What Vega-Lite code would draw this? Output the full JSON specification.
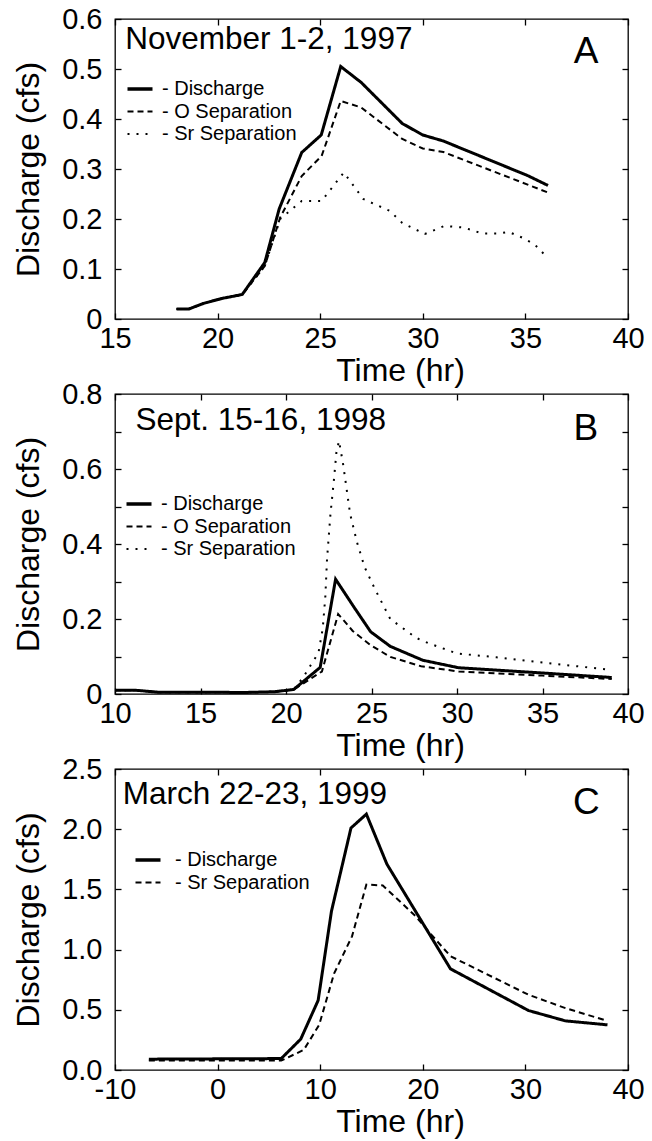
{
  "$schema": "https://vega.github.io/schema/vega-lite/v6.json",
  "padding": {"left": 12, "top": 4, "right": 2, "bottom": 2},
  "autosize": {"type": "pad"},
  "bounds": "flush",
  "spacing": 75,
  "config": {
    "font": "Liberation Sans",
    "view": {"stroke": "black", "strokeWidth": 1.3},
    "axis": {"grid": false, "domain": false, "tickColor": "black", "tickSize": -6, "tickWidth": 1.3, "labelFontSize": 29, "labelColor": "black", "labelFlush": false, "labelOverlap": false, "titleFontSize": 32, "titleFontWeight": "normal", "titleColor": "black"},
    "axisY": {"labelPadding": 19, "titlePadding": 16},
    "axisX": {"labelPadding": 11, "titlePadding": 2, "titleX": 285},
    "legend": {"orient": "none", "title": null, "labelFontSize": 20, "labelColor": "black", "symbolType": "stroke", "symbolSize": 625, "symbolStrokeColor": "black", "symbolStrokeWidth": 2, "labelOffset": 12, "rowPadding": 2.5, "padding": 0},
    "text": {"color": "black"},
    "line": {"color": "black"}
  },
  "resolve": {"scale": {"x": "independent", "y": "independent", "strokeDash": "independent"}, "legend": {"strokeDash": "independent"}},
  "vconcat": [
    {
      "width": 513, "height": 300,
      "data": {"values": [
        {"t": 18.0, "q": 0.02, "series": "Discharge"},
        {"t": 18.6, "q": 0.02, "series": "Discharge"},
        {"t": 19.3, "q": 0.031, "series": "Discharge"},
        {"t": 20.2, "q": 0.041, "series": "Discharge"},
        {"t": 21.2, "q": 0.049, "series": "Discharge"},
        {"t": 22.3, "q": 0.113, "series": "Discharge"},
        {"t": 23.0, "q": 0.22, "series": "Discharge"},
        {"t": 24.1, "q": 0.333, "series": "Discharge"},
        {"t": 25.05, "q": 0.368, "series": "Discharge"},
        {"t": 26.0, "q": 0.505, "series": "Discharge"},
        {"t": 27.0, "q": 0.473, "series": "Discharge"},
        {"t": 29.0, "q": 0.391, "series": "Discharge"},
        {"t": 30.0, "q": 0.368, "series": "Discharge"},
        {"t": 31.0, "q": 0.356, "series": "Discharge"},
        {"t": 35.1, "q": 0.287, "series": "Discharge"},
        {"t": 36.1, "q": 0.267, "series": "Discharge"},
        {"t": 18.0, "q": 0.02, "series": "O Separation"},
        {"t": 18.6, "q": 0.02, "series": "O Separation"},
        {"t": 19.3, "q": 0.031, "series": "O Separation"},
        {"t": 20.2, "q": 0.041, "series": "O Separation"},
        {"t": 21.2, "q": 0.049, "series": "O Separation"},
        {"t": 22.3, "q": 0.106, "series": "O Separation"},
        {"t": 23.05, "q": 0.203, "series": "O Separation"},
        {"t": 24.1, "q": 0.286, "series": "O Separation"},
        {"t": 25.07, "q": 0.326, "series": "O Separation"},
        {"t": 26.0, "q": 0.436, "series": "O Separation"},
        {"t": 27.0, "q": 0.423, "series": "O Separation"},
        {"t": 29.0, "q": 0.36, "series": "O Separation"},
        {"t": 30.0, "q": 0.341, "series": "O Separation"},
        {"t": 31.0, "q": 0.334, "series": "O Separation"},
        {"t": 36.1, "q": 0.253, "series": "O Separation"},
        {"t": 18.0, "q": 0.02, "series": "Sr Separation"},
        {"t": 18.6, "q": 0.02, "series": "Sr Separation"},
        {"t": 19.3, "q": 0.031, "series": "Sr Separation"},
        {"t": 20.2, "q": 0.041, "series": "Sr Separation"},
        {"t": 21.2, "q": 0.049, "series": "Sr Separation"},
        {"t": 22.3, "q": 0.106, "series": "Sr Separation"},
        {"t": 23.05, "q": 0.2, "series": "Sr Separation"},
        {"t": 24.1, "q": 0.236, "series": "Sr Separation"},
        {"t": 25.07, "q": 0.236, "series": "Sr Separation"},
        {"t": 26.15, "q": 0.293, "series": "Sr Separation"},
        {"t": 27.1, "q": 0.24, "series": "Sr Separation"},
        {"t": 28.4, "q": 0.216, "series": "Sr Separation"},
        {"t": 29.0, "q": 0.192, "series": "Sr Separation"},
        {"t": 30.1, "q": 0.17, "series": "Sr Separation"},
        {"t": 31.05, "q": 0.186, "series": "Sr Separation"},
        {"t": 32.0, "q": 0.183, "series": "Sr Separation"},
        {"t": 32.9, "q": 0.171, "series": "Sr Separation"},
        {"t": 33.7, "q": 0.171, "series": "Sr Separation"},
        {"t": 34.2, "q": 0.174, "series": "Sr Separation"},
        {"t": 35.0, "q": 0.16, "series": "Sr Separation"},
        {"t": 35.5, "q": 0.147, "series": "Sr Separation"},
        {"t": 35.95, "q": 0.128, "series": "Sr Separation"}
      ]},
      "layer": [
        {
          "mark": {"type": "line", "color": "black", "strokeCap": "butt"},
          "encoding": {
            "x": {"field": "t", "type": "quantitative", "scale": {"domain": [15, 40], "nice": false, "zero": false}, "axis": {"orient": "bottom", "values": [15, 20, 25, 30, 35, 40], "title": "Time (hr)"}},
            "y": {"field": "q", "type": "quantitative", "scale": {"domain": [0, 0.6], "nice": false, "zero": false}, "axis": {"orient": "left", "values": [0, 0.1, 0.2, 0.3, 0.4, 0.5, 0.6], "format": ".1~f", "title": "Discharge (cfs)"}},
            "strokeDash": {"field": "series", "type": "nominal", "scale": {"domain": ["Discharge", "O Separation", "Sr Separation"], "range": [[1, 0], [6, 4], [2, 7]]}, "legend": {"legendX": 15, "legendY": 60, "labelExpr": "'- ' + datum.label", "encode": {"symbols": {"update": {"strokeWidth": {"signal": "datum.value === 'Discharge' ? 3.5 : 2"}}}}}},
            "strokeWidth": {"condition": {"test": "datum.series === 'Discharge'", "value": 3}, "value": 2}
          }
        },
        {
          "mark": {"type": "line", "opacity": 0},
          "encoding": {
            "x": {"field": "t", "type": "quantitative", "axis": {"orient": "top", "values": [15, 20, 25, 30, 35, 40], "labels": false, "title": null}},
            "y": {"field": "q", "type": "quantitative", "axis": {"orient": "right", "values": [0, 0.1, 0.2, 0.3, 0.4, 0.5, 0.6], "labels": false, "title": null}},
            "detail": {"field": "series", "type": "nominal"}
          }
        },
        {
          "data": {"values": [{"label": "November 1-2, 1997"}]},
          "mark": {"type": "text", "align": "left", "baseline": "alphabetic", "fontSize": 31.5},
          "encoding": {
            "x": {"datum": 15.5, "type": "quantitative", "axis": null},
            "y": {"datum": 0.54, "type": "quantitative", "axis": null},
            "text": {"field": "label", "type": "nominal"}
          }
        },
        {
          "data": {"values": [{"label": "A"}]},
          "mark": {"type": "text", "align": "center", "baseline": "alphabetic", "fontSize": 37},
          "encoding": {
            "x": {"datum": 37.96, "type": "quantitative", "axis": null},
            "y": {"datum": 0.513, "type": "quantitative", "axis": null},
            "text": {"field": "label", "type": "nominal"}
          }
        }
      ],
      "resolve": {"axis": {"x": "independent", "y": "independent"}}
    },
    {
      "width": 513, "height": 300,
      "data": {"values": [
        {"t": 10, "q": 0.01, "series": "Discharge"},
        {"t": 11.2, "q": 0.01, "series": "Discharge"},
        {"t": 12.5, "q": 0.005, "series": "Discharge"},
        {"t": 15, "q": 0.005, "series": "Discharge"},
        {"t": 17.5, "q": 0.004, "series": "Discharge"},
        {"t": 19.3, "q": 0.006, "series": "Discharge"},
        {"t": 20.45, "q": 0.012, "series": "Discharge"},
        {"t": 22.0, "q": 0.071, "series": "Discharge"},
        {"t": 22.9, "q": 0.306, "series": "Discharge"},
        {"t": 24.0, "q": 0.23, "series": "Discharge"},
        {"t": 24.95, "q": 0.166, "series": "Discharge"},
        {"t": 26.1, "q": 0.127, "series": "Discharge"},
        {"t": 28.0, "q": 0.09, "series": "Discharge"},
        {"t": 30.1, "q": 0.07, "series": "Discharge"},
        {"t": 35, "q": 0.056, "series": "Discharge"},
        {"t": 39.05, "q": 0.044, "series": "Discharge"},
        {"t": 10, "q": 0.01, "series": "O Separation"},
        {"t": 11.2, "q": 0.01, "series": "O Separation"},
        {"t": 12.5, "q": 0.005, "series": "O Separation"},
        {"t": 15, "q": 0.005, "series": "O Separation"},
        {"t": 17.5, "q": 0.004, "series": "O Separation"},
        {"t": 19.3, "q": 0.006, "series": "O Separation"},
        {"t": 20.45, "q": 0.012, "series": "O Separation"},
        {"t": 22.1, "q": 0.06, "series": "O Separation"},
        {"t": 23.05, "q": 0.213, "series": "O Separation"},
        {"t": 23.4, "q": 0.195, "series": "O Separation"},
        {"t": 23.9, "q": 0.168, "series": "O Separation"},
        {"t": 24.95, "q": 0.13, "series": "O Separation"},
        {"t": 26.1, "q": 0.099, "series": "O Separation"},
        {"t": 27.9, "q": 0.074, "series": "O Separation"},
        {"t": 30.1, "q": 0.06, "series": "O Separation"},
        {"t": 35, "q": 0.049, "series": "O Separation"},
        {"t": 39.05, "q": 0.04, "series": "O Separation"},
        {"t": 10, "q": 0.01, "series": "Sr Separation"},
        {"t": 11.2, "q": 0.01, "series": "Sr Separation"},
        {"t": 12.5, "q": 0.005, "series": "Sr Separation"},
        {"t": 15, "q": 0.005, "series": "Sr Separation"},
        {"t": 17.5, "q": 0.004, "series": "Sr Separation"},
        {"t": 19.3, "q": 0.006, "series": "Sr Separation"},
        {"t": 20.45, "q": 0.012, "series": "Sr Separation"},
        {"t": 21.0, "q": 0.044, "series": "Sr Separation"},
        {"t": 21.9, "q": 0.11, "series": "Sr Separation"},
        {"t": 22.15, "q": 0.175, "series": "Sr Separation"},
        {"t": 22.3, "q": 0.26, "series": "Sr Separation"},
        {"t": 22.4, "q": 0.36, "series": "Sr Separation"},
        {"t": 22.6, "q": 0.48, "series": "Sr Separation"},
        {"t": 22.8, "q": 0.57, "series": "Sr Separation"},
        {"t": 22.95, "q": 0.645, "series": "Sr Separation"},
        {"t": 23.1, "q": 0.675, "series": "Sr Separation"},
        {"t": 23.35, "q": 0.61, "series": "Sr Separation"},
        {"t": 23.75, "q": 0.48, "series": "Sr Separation"},
        {"t": 24.15, "q": 0.405, "series": "Sr Separation"},
        {"t": 24.6, "q": 0.338, "series": "Sr Separation"},
        {"t": 25.2, "q": 0.28, "series": "Sr Separation"},
        {"t": 26.1, "q": 0.2, "series": "Sr Separation"},
        {"t": 27.6, "q": 0.15, "series": "Sr Separation"},
        {"t": 28.3, "q": 0.136, "series": "Sr Separation"},
        {"t": 29.4, "q": 0.118, "series": "Sr Separation"},
        {"t": 30.0, "q": 0.108, "series": "Sr Separation"},
        {"t": 32.3, "q": 0.098, "series": "Sr Separation"},
        {"t": 35, "q": 0.084, "series": "Sr Separation"},
        {"t": 39.05, "q": 0.064, "series": "Sr Separation"}
      ]},
      "layer": [
        {
          "mark": {"type": "line", "color": "black", "strokeCap": "butt"},
          "encoding": {
            "x": {"field": "t", "type": "quantitative", "scale": {"domain": [10, 40], "nice": false, "zero": false}, "axis": {"orient": "bottom", "values": [10, 15, 20, 25, 30, 35, 40], "title": "Time (hr)"}},
            "y": {"field": "q", "type": "quantitative", "scale": {"domain": [0, 0.8], "nice": false, "zero": false}, "axis": {"orient": "left", "values": [0, 0.1, 0.2, 0.3, 0.4, 0.5, 0.6, 0.7, 0.8], "format": ".1~f", "labelExpr": "round(datum.value * 10) % 2 == 0 ? datum.label : ''", "title": "Discharge (cfs)"}},
            "strokeDash": {"field": "series", "type": "nominal", "scale": {"domain": ["Discharge", "O Separation", "Sr Separation"], "range": [[1, 0], [6, 4], [2, 7]]}, "legend": {"legendX": 14, "legendY": 100, "labelExpr": "'- ' + datum.label", "encode": {"symbols": {"update": {"strokeWidth": {"signal": "datum.value === 'Discharge' ? 3.5 : 2"}}}}}},
            "strokeWidth": {"condition": {"test": "datum.series === 'Discharge'", "value": 3}, "value": 2}
          }
        },
        {
          "mark": {"type": "line", "opacity": 0},
          "encoding": {
            "x": {"field": "t", "type": "quantitative", "axis": {"orient": "top", "values": [10, 15, 20, 25, 30, 35, 40], "labels": false, "title": null}},
            "y": {"field": "q", "type": "quantitative", "axis": {"orient": "right", "values": [0, 0.1, 0.2, 0.3, 0.4, 0.5, 0.6, 0.7, 0.8], "labels": false, "title": null}},
            "detail": {"field": "series", "type": "nominal"}
          }
        },
        {
          "data": {"values": [{"label": "Sept. 15-16, 1998"}]},
          "mark": {"type": "text", "align": "left", "baseline": "alphabetic", "fontSize": 31.5},
          "encoding": {
            "x": {"datum": 11.2, "type": "quantitative", "axis": null},
            "y": {"datum": 0.705, "type": "quantitative", "axis": null},
            "text": {"field": "label", "type": "nominal"}
          }
        },
        {
          "data": {"values": [{"label": "B"}]},
          "mark": {"type": "text", "align": "center", "baseline": "alphabetic", "fontSize": 37},
          "encoding": {
            "x": {"datum": 37.54, "type": "quantitative", "axis": null},
            "y": {"datum": 0.678, "type": "quantitative", "axis": null},
            "text": {"field": "label", "type": "nominal"}
          }
        }
      ],
      "resolve": {"axis": {"x": "independent", "y": "independent"}}
    },
    {
      "width": 513, "height": 301,
      "data": {"values": [
        {"t": -6.7, "q": 0.09, "series": "Discharge"},
        {"t": 6.2, "q": 0.095, "series": "Discharge"},
        {"t": 8.1, "q": 0.256, "series": "Discharge"},
        {"t": 9.8, "q": 0.578, "series": "Discharge"},
        {"t": 11.1, "q": 1.32, "series": "Discharge"},
        {"t": 13.0, "q": 2.01, "series": "Discharge"},
        {"t": 14.5, "q": 2.125, "series": "Discharge"},
        {"t": 16.5, "q": 1.71, "series": "Discharge"},
        {"t": 22.7, "q": 0.84, "series": "Discharge"},
        {"t": 30.3, "q": 0.494, "series": "Discharge"},
        {"t": 33.9, "q": 0.408, "series": "Discharge"},
        {"t": 38.0, "q": 0.375, "series": "Discharge"},
        {"t": -6.7, "q": 0.078, "series": "Sr Separation"},
        {"t": 6.2, "q": 0.078, "series": "Sr Separation"},
        {"t": 8.4, "q": 0.167, "series": "Sr Separation"},
        {"t": 9.9, "q": 0.375, "series": "Sr Separation"},
        {"t": 11.35, "q": 0.8, "series": "Sr Separation"},
        {"t": 13.1, "q": 1.11, "series": "Sr Separation"},
        {"t": 14.5, "q": 1.54, "series": "Sr Separation"},
        {"t": 16.1, "q": 1.533, "series": "Sr Separation"},
        {"t": 19.3, "q": 1.278, "series": "Sr Separation"},
        {"t": 20.9, "q": 1.117, "series": "Sr Separation"},
        {"t": 22.7, "q": 0.945, "series": "Sr Separation"},
        {"t": 30.3, "q": 0.625, "series": "Sr Separation"},
        {"t": 33.9, "q": 0.514, "series": "Sr Separation"},
        {"t": 38.0, "q": 0.408, "series": "Sr Separation"}
      ]},
      "layer": [
        {
          "mark": {"type": "line", "color": "black", "strokeCap": "butt"},
          "encoding": {
            "x": {"field": "t", "type": "quantitative", "scale": {"domain": [-10, 40], "nice": false, "zero": false}, "axis": {"orient": "bottom", "values": [-10, 0, 10, 20, 30, 40], "labelExpr": "datum.value < 0 ? '-' + abs(datum.value) : datum.label", "title": "Time (hr)"}},
            "y": {"field": "q", "type": "quantitative", "scale": {"domain": [0, 2.5], "nice": false, "zero": false}, "axis": {"orient": "left", "values": [0, 0.5, 1, 1.5, 2, 2.5], "format": ".1f", "title": "Discharge (cfs)"}},
            "strokeDash": {"field": "series", "type": "nominal", "scale": {"domain": ["Discharge", "Sr Separation"], "range": [[1, 0], [6, 4]]}, "legend": {"legendX": 23, "legendY": 81, "labelOffset": 17, "labelExpr": "'- ' + datum.label", "encode": {"symbols": {"update": {"strokeWidth": {"signal": "datum.value === 'Discharge' ? 3.5 : 2"}}}}}},
            "strokeWidth": {"condition": {"test": "datum.series === 'Discharge'", "value": 3}, "value": 2}
          }
        },
        {
          "mark": {"type": "line", "opacity": 0},
          "encoding": {
            "x": {"field": "t", "type": "quantitative", "axis": {"orient": "top", "values": [-10, 0, 10, 20, 30, 40], "labels": false, "title": null}},
            "y": {"field": "q", "type": "quantitative", "axis": {"orient": "right", "values": [0, 0.5, 1, 1.5, 2, 2.5], "labels": false, "title": null}},
            "detail": {"field": "series", "type": "nominal"}
          }
        },
        {
          "data": {"values": [{"label": "March 22-23, 1999"}]},
          "mark": {"type": "text", "align": "left", "baseline": "alphabetic", "fontSize": 31.5},
          "encoding": {
            "x": {"datum": -9.25, "type": "quantitative", "axis": null},
            "y": {"datum": 2.21, "type": "quantitative", "axis": null},
            "text": {"field": "label", "type": "nominal"}
          }
        },
        {
          "data": {"values": [{"label": "C"}]},
          "mark": {"type": "text", "align": "center", "baseline": "alphabetic", "fontSize": 37},
          "encoding": {
            "x": {"datum": 35.94, "type": "quantitative", "axis": null},
            "y": {"datum": 2.125, "type": "quantitative", "axis": null},
            "text": {"field": "label", "type": "nominal"}
          }
        }
      ],
      "resolve": {"axis": {"x": "independent", "y": "independent"}}
    }
  ]
}
